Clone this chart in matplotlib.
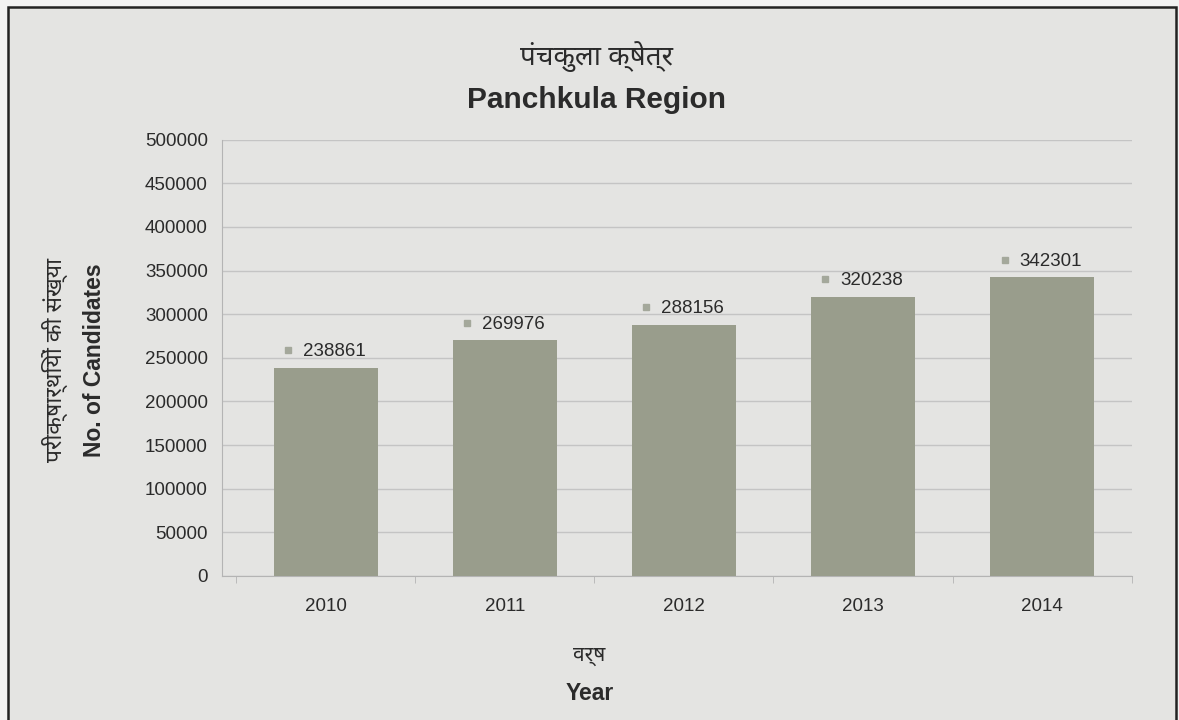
import matplotlib
matplotlib.use("Agg")
import matplotlib.pyplot as plt
from matplotlib import font_manager
from matplotlib.patches import Rectangle

years = ["2010", "2011", "2012", "2013", "2014"]
candidates = [238861, 269976, 288156, 320238, 342301]
y_ticks = [0, 50000, 100000, 150000, 200000, 250000, 300000, 350000, 400000, 450000, 500000]

title_hi = "पंचकुला क्षेत्र"
title_en = "Panchkula Region"
ylabel_hi = "परीक्षार्थियों की संख्या"
ylabel_en = "No. of Candidates"
xlabel_hi = "वर्ष"
xlabel_en = "Year"


def pick_hindi_font():
    names = {f.name for f in font_manager.fontManager.ttflist}
    for pref in ["Noto Sans Devanagari", "Hind", "Mukta", "Poppins", "Annapurna SIL"]:
        if pref in names:
            return pref
    return "DejaVu Sans"


hindi = [pick_hindi_font(), "DejaVu Sans"]
latin = ["Liberation Sans", "DejaVu Sans"]
plt.rcParams["font.family"] = latin

bg = "#e4e4e2"
outside = "#f2f2f2"
bar_color = "#999d8c"
text_color = "#2b2b2b"

fig = plt.figure(figsize=(11.79, 7.2), dpi=100, facecolor=outside)

# scanned frame: left, top and right edges, bottom runs off the page
fig.patches.append(Rectangle((0.0068, -0.02), 0.9907, 1.01, transform=fig.transFigure,
                             facecolor=bg, edgecolor="#222222", linewidth=1.8, zorder=-5))

ax = fig.add_axes([0.188, 0.2, 0.772, 0.606])
ax.set_facecolor(bg)

x = range(len(years))
ax.bar(x, candidates, width=0.58, color=bar_color, zorder=3)

ax.set_ylim(0, 500000)
ax.set_xlim(-0.58, len(years) - 0.515)
ax.set_yticks(y_ticks)
ax.set_yticklabels([str(v) for v in y_ticks])
ax.set_xticks(list(x))
ax.set_xticklabels(years)
ax.tick_params(axis="y", length=0, pad=10, labelsize=13.5, labelcolor=text_color)
ax.tick_params(axis="x", length=0, pad=16, labelsize=13.5, labelcolor=text_color)
ax.set_xticks([i + 0.5 for i in range(-1, len(years))], minor=True)
ax.tick_params(axis="x", which="minor", length=5, color="#b4b4b4", direction="out")

ax.grid(axis="y", color="#c4c4c4", linewidth=1, zorder=0)
for side in ["top", "right"]:
    ax.spines[side].set_visible(False)
for side in ["left", "bottom"]:
    ax.spines[side].set_color("#b4b4b4")

# value labels with the small legend-key square
for xi, v in zip(x, candidates):
    ax.plot(xi - 0.21, v + 20000, marker="s", markersize=5, color="#a4a89b", zorder=4,
            clip_on=False)
    ax.text(xi - 0.128, v + 18000, str(v), ha="left", va="center", fontsize=13.5,
            color=text_color, zorder=4)

fig.text(0.506, 0.921, title_hi, ha="center", va="center", fontsize=20,
         family=hindi, color=text_color)
fig.text(0.506, 0.861, title_en, ha="center", va="center", fontsize=21.5,
         fontweight="bold", color=text_color)

fig.text(0.047, 0.5, ylabel_hi, ha="center", va="center", rotation=90,
         fontsize=16.5, family=hindi, color=text_color)
fig.text(0.080, 0.5, ylabel_en, ha="center", va="center", rotation=90,
         fontsize=16.5, fontweight="bold", color=text_color)

fig.text(0.5, 0.09, xlabel_hi, ha="center", va="center", fontsize=15,
         family=hindi, color=text_color)
fig.text(0.5, 0.037, xlabel_en, ha="center", va="center", fontsize=16.5,
         fontweight="bold", color=text_color)

fig.savefig("out.png", dpi=100, facecolor=outside)
